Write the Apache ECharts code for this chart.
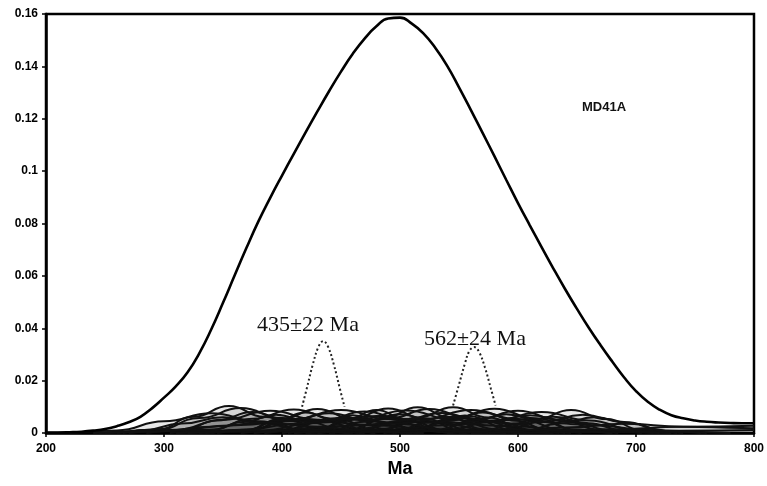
<!DOCTYPE html>
<html>
<head>
    <meta charset="UTF-8">
    <title>MD41A</title>
    <script src="https://cdn.jsdelivr.net/npm/echarts@6/dist/echarts.min.js"></script>
    <style>
        body { margin: 0; background: #fff; }
        #chart { width: 767px; height: 486px; }
    </style>
</head>
<body>
    <div id="chart"></div>
    <script>
        // 主曲线（概率密度），每10 Ma一个读数
        const ages = [200, 210, 220, 230, 240, 250, 260, 270, 280, 290,
            300, 310, 320, 330, 340, 350, 360, 370, 380, 390,
            400, 410, 420, 430, 440, 450, 460, 470, 480, 490,
            500, 510, 520, 530, 540, 550, 560, 570, 580, 590,
            600, 610, 620, 630, 640, 650, 660, 670, 680, 690,
            700, 710, 720, 730, 740, 750, 760, 770, 780, 790, 800];
        const mainDensity = [0.0002, 0.0002, 0.0003, 0.0005, 0.0009, 0.0015, 0.0026, 0.0041, 0.0062, 0.0095,
            0.0135, 0.0178, 0.0232, 0.0305, 0.0395, 0.0497, 0.0603, 0.0708, 0.0808, 0.0898,
            0.0983, 0.1066, 0.1148, 0.1228, 0.1306, 0.1380, 0.1448, 0.1506, 0.1553, 0.1583,
            0.1586, 0.1563, 0.1525, 0.1470, 0.1402, 0.1320, 0.1234, 0.1146, 0.1057, 0.0967,
            0.0878, 0.0793, 0.0710, 0.0628, 0.0549, 0.0474, 0.0402, 0.0335, 0.0272, 0.0212,
            0.0160, 0.0119, 0.0089, 0.0068, 0.0056, 0.0048, 0.0043, 0.0040, 0.0038, 0.0037, 0.0037];

        // 单颗粒年龄曲线 [Ma, 密度]
        const grain01 = [[265, 0], [295, 0.0014], [325, 0.0062], [355, 0.0103], [385, 0.0062], [415, 0.0014], [445, 0]];
        const grain02 = [[260, 0], [295, 0.0013], [330, 0.0057], [365, 0.0095], [400, 0.0057], [435, 0.0013], [470, 0]];
        const grain03 = [[220, 0], [260, 0.0010], [300, 0.0045], [340, 0.0075], [380, 0.0045], [420, 0.0010], [460, 0]];
        const grain04 = [[270, 0], [310, 0.0012], [350, 0.0051], [390, 0.0085], [430, 0.0051], [470, 0.0012], [510, 0]];
        const grain05 = [[305, 0], [340, 0.0013], [375, 0.0054], [410, 0.0090], [445, 0.0054], [480, 0.0013], [515, 0]];
        const grain06 = [[340, 0], [370, 0.0013], [400, 0.0055], [430, 0.0092], [460, 0.0055], [490, 0.0013], [520, 0]];
        const grain07 = [[330, 0], [370, 0.0012], [410, 0.0053], [450, 0.0088], [490, 0.0053], [530, 0.0012], [570, 0]];
        const grain08 = [[365, 0], [400, 0.0011], [435, 0.0049], [470, 0.0082], [505, 0.0049], [540, 0.0011], [575, 0]];
        const grain09 = [[400, 0], [430, 0.0013], [460, 0.0056], [490, 0.0094], [520, 0.0056], [550, 0.0013], [580, 0]];
        const grain10 = [[385, 0], [425, 0.0012], [465, 0.0052], [505, 0.0086], [545, 0.0052], [585, 0.0012], [625, 0]];
        const grain11 = [[420, 0], [455, 0.0013], [490, 0.0055], [525, 0.0092], [560, 0.0055], [595, 0.0013], [630, 0]];
        const grain12 = [[455, 0], [485, 0.0014], [515, 0.0059], [545, 0.0098], [575, 0.0059], [605, 0.0014], [635, 0]];
        const grain13 = [[440, 0], [480, 0.0012], [520, 0.0053], [560, 0.0088], [600, 0.0053], [640, 0.0012], [680, 0]];
        const grain14 = [[475, 0], [510, 0.0013], [545, 0.0056], [580, 0.0093], [615, 0.0056], [650, 0.0013], [685, 0]];
        const grain15 = [[495, 0], [530, 0.0012], [565, 0.0051], [600, 0.0085], [635, 0.0051], [670, 0.0012], [705, 0]];
        const grain16 = [[500, 0], [540, 0.0011], [580, 0.0048], [620, 0.0080], [660, 0.0048], [700, 0.0011], [740, 0]];
        const grain17 = [[555, 0], [585, 0.0012], [615, 0.0053], [645, 0.0088], [675, 0.0053], [705, 0.0012], [735, 0]];
        const grain18 = [[550, 0], [585, 0.0010], [620, 0.0042], [655, 0.0070], [690, 0.0042], [725, 0.0010], [760, 0]];
        const grain19 = [[240, 0], [300, 0.0007], [360, 0.0030], [420, 0.0050], [480, 0.0030], [540, 0.0007], [600, 0]];
        const grain20 = [[310, 0], [380, 0.0006], [450, 0.0027], [520, 0.0045], [590, 0.0027], [660, 0.0006], [730, 0]];
        const grain21 = [[420, 0], [480, 0.0007], [540, 0.0031], [600, 0.0052], [660, 0.0031], [720, 0.0007], [780, 0]];
        const grain22 = [[330, 0], [380, 0.0009], [430, 0.0039], [480, 0.0065], [530, 0.0039], [580, 0.0009], [630, 0]];
        const grain23 = [[540, 0], [590, 0.0005], [640, 0.0021], [690, 0.0035], [740, 0.0024], [790, 0.0019], [800, 0.0018]];
        const grain24 = [[560, 0], [620, 0.0004], [680, 0.0014], [740, 0.0024], [800, 0.0028]];
        const grain25 = [[600, 0], [680, 0.0004], [740, 0.0009], [800, 0.0011]];
        const grain26 = [[285, 0], [315, 0.0011], [345, 0.0048], [375, 0.0080], [405, 0.0048], [435, 0.0011], [465, 0]];
        const grain27 = [[311, 0], [339, 0.0010], [367, 0.0042], [395, 0.0070], [423, 0.0042], [451, 0.0010], [479, 0]];
        const grain28 = [[335, 0], [370, 0.0010], [405, 0.0045], [440, 0.0075], [475, 0.0045], [510, 0.0010], [545, 0]];
        const grain29 = [[376, 0], [404, 0.0010], [432, 0.0041], [460, 0.0068], [488, 0.0041], [516, 0.0010], [544, 0]];
        const grain30 = [[410, 0], [440, 0.0010], [470, 0.0043], [500, 0.0072], [530, 0.0043], [560, 0.0010], [590, 0]];
        const grain31 = [[431, 0], [459, 0.0014], [487, 0.0059], [515, 0.0098], [543, 0.0059], [571, 0.0014], [599, 0]];
        const grain32 = [[430, 0], [465, 0.0011], [500, 0.0046], [535, 0.0076], [570, 0.0046], [605, 0.0011], [640, 0]];
        const grain33 = [[465, 0], [495, 0.0009], [525, 0.0040], [555, 0.0067], [585, 0.0040], [615, 0.0009], [645, 0]];
        const grain34 = [[486, 0], [514, 0.0011], [542, 0.0047], [570, 0.0078], [598, 0.0047], [626, 0.0011], [654, 0]];
        const grain35 = [[500, 0], [530, 0.0010], [560, 0.0043], [590, 0.0072], [620, 0.0043], [650, 0.0010], [680, 0]];
        const grain36 = [[505, 0], [540, 0.0010], [575, 0.0041], [610, 0.0068], [645, 0.0041], [680, 0.0010], [715, 0]];
        const grain37 = [[540, 0], [570, 0.0009], [600, 0.0037], [630, 0.0062], [660, 0.0037], [690, 0.0009], [720, 0]];
        const grain38 = [[245, 0], [280, 0.0008], [315, 0.0036], [350, 0.0060], [385, 0.0036], [420, 0.0008], [455, 0]];
        const grain39 = [[345, 0], [370, 0.0011], [395, 0.0047], [420, 0.0078], [445, 0.0047], [470, 0.0011], [495, 0]];
        const grain40 = [[405, 0], [430, 0.0012], [455, 0.0053], [480, 0.0088], [505, 0.0053], [530, 0.0012], [555, 0]];
        const grain41 = [[320, 0], [365, 0.0008], [410, 0.0035], [455, 0.0058], [500, 0.0035], [545, 0.0008], [590, 0]];
        const grain42 = [[410, 0], [455, 0.0009], [500, 0.0037], [545, 0.0062], [590, 0.0037], [635, 0.0009], [680, 0]];
        const grain43 = [[575, 0], [605, 0.0008], [635, 0.0036], [665, 0.0060], [695, 0.0036], [725, 0.0008], [755, 0]];
        const grain44 = [[250, 0], [295, 0.0006], [340, 0.0024], [385, 0.0040], [430, 0.0024], [475, 0.0006], [520, 0]];
        const grains = [grain01, grain02, grain03, grain04, grain05, grain06, grain07, grain08, grain09, grain10,
            grain11, grain12, grain13, grain14, grain15, grain16, grain17, grain18, grain19, grain20,
            grain21, grain22, grain23, grain24, grain25, grain26, grain27, grain28, grain29, grain30,
            grain31, grain32, grain33, grain34, grain35, grain36, grain37, grain38, grain39, grain40,
            grain41, grain42, grain43, grain44];

        // 两个峰值（虚线）
        const peak435 = [[417, 0.0100], [421, 0.0170], [426, 0.0260], [431, 0.0330], [435, 0.0351], [439, 0.0330], [444, 0.0260], [449, 0.0170], [453, 0.0100]];
        const peak562 = [[545, 0.0105], [550, 0.0185], [555, 0.0265], [559, 0.0315], [563, 0.0328], [567, 0.0310], [572, 0.0250], [577, 0.0170], [581, 0.0105]];

        const xTicks = { min: 200, max: 800, interval: 100 };
        const yTicks = { min: 0, max: 0.16, interval: 0.02 };

        const chart = echarts.init(document.getElementById('chart'));

        const series = grains.map(g => ({
            type: 'line',
            data: g,
            smooth: 0.5,
            smoothMonotone: 'x',
            showSymbol: false,
            silent: true,
            lineStyle: { color: '#111', width: 2 },
            areaStyle: { color: '#000', opacity: 0.09 }
        }));

        series.push({
            type: 'line',
            data: ages.map((a, i) => [a, mainDensity[i]]),
            smooth: 0.5,
            showSymbol: false,
            lineStyle: { color: '#000', width: 2.6 },
            z: 5
        });

        [peak435, peak562].forEach(p => {
            series.push({
                type: 'line',
                data: p,
                smooth: 0.4,
                showSymbol: false,
                lineStyle: { color: '#222', width: 2, type: [2, 2.5] },
                z: 4
            });
        });

        const labelFont = { fontFamily: 'Liberation Sans', fontWeight: 'bold', fontSize: 12, color: '#000' };

        chart.setOption({
            animation: false,
            grid: {
                left: 46, right: 11, top: 14, bottom: 53,
                show: true, borderColor: '#000', borderWidth: 2.5, backgroundColor: 'transparent'
            },
            xAxis: {
                type: 'value',
                min: xTicks.min, max: xTicks.max, interval: xTicks.interval,
                name: 'Ma', nameLocation: 'middle', nameGap: 25,
                nameTextStyle: { fontFamily: 'Liberation Sans', fontWeight: 'bold', fontSize: 18, color: '#000' },
                axisLine: { lineStyle: { color: '#000', width: 2.5 } },
                axisTick: { length: 4, lineStyle: { color: '#000', width: 1.5 } },
                axisLabel: Object.assign({ margin: 10 }, labelFont),
                splitLine: { show: false }
            },
            yAxis: {
                type: 'value',
                min: yTicks.min, max: yTicks.max, interval: yTicks.interval,
                axisLine: { show: true, lineStyle: { color: '#000', width: 2.5 } },
                axisTick: { show: true, length: 4, lineStyle: { color: '#000', width: 1.5 } },
                axisLabel: Object.assign({ margin: 8 }, labelFont),
                splitLine: { show: false }
            },
            series: series,
            graphic: [
                {
                    type: 'text', left: 582, top: 101,
                    style: { text: 'MD41A', font: 'bold 13px "Liberation Sans"', fill: '#111' }
                },
                {
                    type: 'text', left: 257, top: 314,
                    style: { text: '435±22 Ma', font: '22px "Liberation Serif"', fill: '#111' }
                },
                {
                    type: 'text', left: 424, top: 328,
                    style: { text: '562±24 Ma', font: '22px "Liberation Serif"', fill: '#111' }
                }
            ]
        });
    </script>
</body>
</html>
